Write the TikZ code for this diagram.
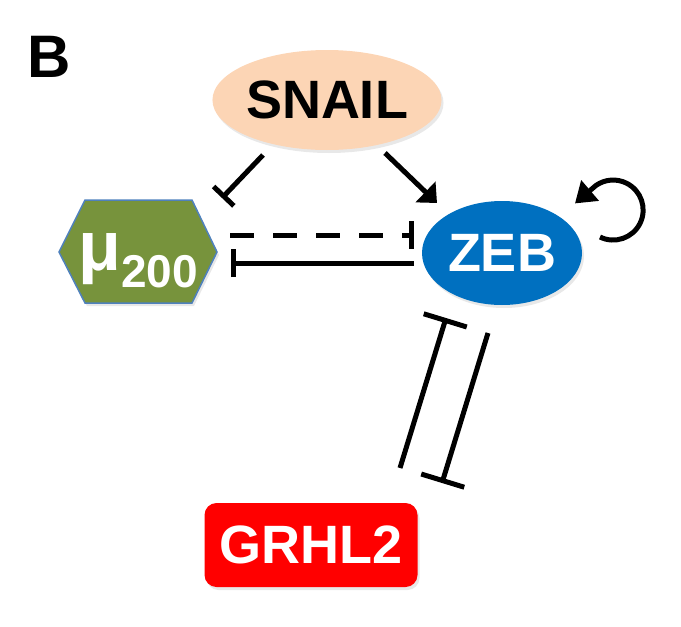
\documentclass[tikz,border=0pt]{standalone}
\usepackage{fontspec}
\setmainfont{Liberation Sans}
\usepackage{tikz}
\usetikzlibrary{arrows.meta,calc,shapes.geometric,shadows}
\definecolor{snailfill}{HTML}{FCD5B5}
\definecolor{mirgreen}{HTML}{77933C}
\definecolor{mirline}{HTML}{4F81BD}
\definecolor{zebblue}{HTML}{0070C0}
\definecolor{grhlred}{HTML}{FF0000}
\begin{document}
\begin{tikzpicture}[x=1pt,y=-1pt,every node/.style={font=\fontsize{54}{54}\selectfont\bfseries,inner sep=0pt},shade/.style={drop shadow={opacity=0.18,shadow xshift=2pt,shadow yshift=-3pt}},gene/.style={ellipse,shade},hexa/.style={fill=mirgreen,draw=mirline,line width=1.5pt,shade},tf/.style={rounded corners=12pt,minimum width=213pt,minimum height=84pt,fill=grhlred,text=white,shade},act/.style={line width=5pt,-{Triangle[length=16pt,width=28pt]}},inh/.style={line width=5pt,-{Bar[width=28pt]}},inhl/.style={line width=5pt,-{Bar[width=45pt]}}]
\useasboundingbox (0,0) rectangle (681,627);
\node[font=\fontsize{60}{60}\selectfont\bfseries] (lbl) at (49,57) {B};
\node[gene,fill=snailfill,minimum width=200pt,minimum height=100pt] (snail) at (327,100) {SNAIL};
% hexagon for the microRNA
\coordinate (mirc) at (138,252);
\path[hexa] ($(mirc)+(-79,0)$) -- ($(mirc)+(-53,-52)$) -- ($(mirc)+(54,-52)$) -- ($(mirc)+(79,0)$) -- ($(mirc)+(54,51)$) -- ($(mirc)+(-53,51)$) -- cycle;
\node[text=white,minimum width=158pt,minimum height=103pt,text height=36pt,text depth=0pt] (mir) at (mirc) {{\fontsize{70}{70}\selectfont μ}\raisebox{-17pt}{\fontsize{46}{46}\selectfont 200}};
\node[gene,fill=zebblue,text=white,minimum width=160pt,minimum height=104pt] (zeb) at (502,253) {ZEB};
\node[tf] (grhl) at (311,545) {GRHL2};
\draw[inh] ($(snail)+(-64,55)$) -- ($(mir)+(84,-54)$);
\draw[act] ($(snail)+(58,53)$) -- ($(zeb)+(-65,-50)$);
\draw[inh,dash pattern=on 24pt off 19pt] ($(mir)+(92,-17)$) -- ($(zeb)+(-88,-18)$);
\draw[inh] ($(zeb)+(-88,10)$) -- ($(mir)+(93,11)$);
\draw[line width=5pt,-{Triangle[length=20pt,width=26pt]}] ($(zeb)+(98,-16)$) arc (116:-125:30) -- ++(-21,18);
\draw[inhl] ($(grhl)+(89,-77)$) -- ($(zeb)+(-56,65)$);
\draw[inhl] ($(zeb)+(-14,80)$) -- ($(grhl)+(131,-62)$);
\end{tikzpicture}
\end{document}
